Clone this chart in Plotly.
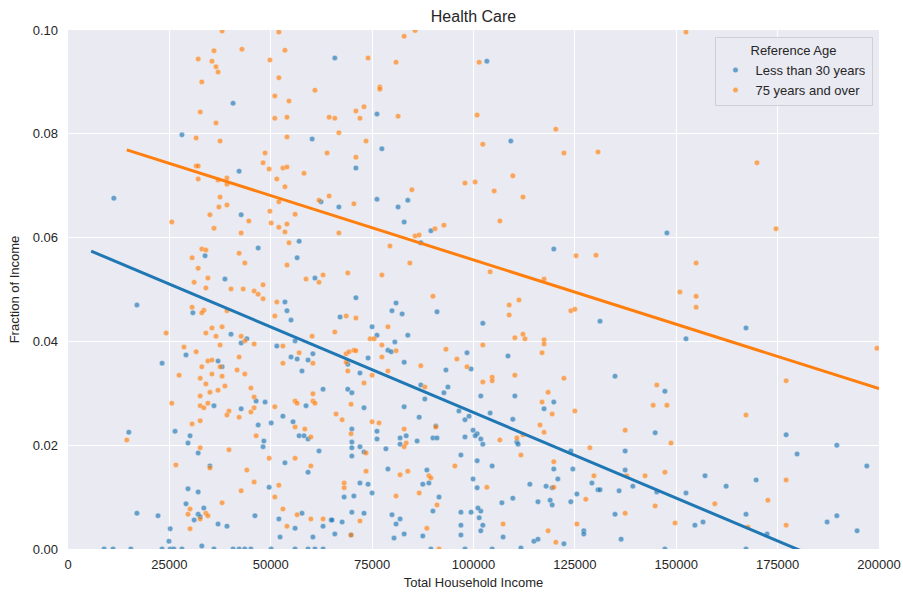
import plotly.graph_objects as go

title = "Health Care"
legend_title = "Reference Age"
series_names = ["Less than 30 years", "75 years and over"]
x_ticks = [0, 25000, 50000, 75000, 100000, 125000, 150000, 175000, 200000]
y_ticks = [0.00, 0.02, 0.04, 0.06, 0.08, 0.10]

young_pts = [
    (65800, .0946), (40700, .0859), (28100, .0798), (60200, .0790), (42200, .0728), (11300, .0676),
    (62400, .0669), (66800, .0659), (42700, .0644), (57000, .0593), (46900, .0580), (33800, .0565),
    (56500, .0561), (38700, .0520), (60900, .0522),
    (17000, .0470), (30800, .0455), (53500, .0476), (54000, .0459), (55000, .0441), (40200, .0414),
    (42700, .0397), (44100, .0405), (51500, .0391), (56000, .0401), (23200, .0358), (29100, .0374),
    (37000, .0362), (38000, .0351), (55000, .0370), (56500, .0366), (59200, .0364), (60400, .0376),
    (57700, .0343), (62900, .0308), (46400, .0285), (48600, .0283), (36000, .0276), (42700, .0270),
    (53000, .0256), (58700, .0276), (46900, .0239), (50100, .0243), (55500, .0245), (15000, .0225),
    (26400, .0227), (30100, .0218), (29600, .0204), (48300, .0208), (48100, .0197), (57000, .0218),
    (58200, .0218), (59200, .0212), (61900, .0189), (32100, .0185), (35000, .0160), (53500, .0166),
    (59200, .0148), (29600, .0116), (32100, .0110), (49600, .0119), (29100, .0087), (33500, .0079),
    (17000, .0069), (22200, .0064), (32100, .0067), (32600, .0062), (31100, .0056), (46100, .0064),
    (52000, .0058), (57700, .0069), (64900, .0056), (37000, .0048), (39200, .0044), (56000, .0040),
    (62900, .0044), (25200, .0039), (24900, .0015), (33000, .0006), (52300, .0023), (60400, .0023),
    (65800, .0029),
    (8900, 0), (11100, 0), (15500, 0), (23200, 0), (25200, 0), (26100, 0), (28100, 0), (36000, 0),
    (40700, 0), (42200, 0), (43600, 0), (45100, 0), (50100, 0), (56000, 0), (59200, 0), (60900, 0),
    (62900, 0),
    (103300, .0940), (76200, .0838), (77400, .0771), (71000, .0734), (109200, .0786), (76200, .0674),
    (81400, .0659), (83800, .0672), (82900, .0630), (89500, .0613), (119800, .0578), (87000, .0590),
    (71000, .0484), (80900, .0474), (79900, .0459), (82400, .0453), (67100, .0447), (91000, .0457),
    (102300, .0435), (75000, .0428), (76200, .0412), (83800, .0412), (80600, .0399), (78900, .0383),
    (79700, .0380), (74000, .0368), (82900, .0360), (98400, .0378), (99400, .0347), (108500, .0372),
    (69000, .0356), (72000, .0339), (93200, .0345), (87000, .0316), (93700, .0312), (92700, .0301),
    (88000, .0289), (69000, .0308), (70000, .0301), (73000, .0272), (82900, .0274), (101800, .0295),
    (110200, .0295), (119800, .0283), (117400, .0270), (96400, .0266), (98900, .0256), (97900, .0249),
    (104100, .0262), (109700, .0250), (86600, .0254), (70000, .0231), (76200, .0227), (76200, .0212),
    (90700, .0237), (99900, .0229), (100900, .0222), (100400, .0218), (101800, .0212), (97900, .0216),
    (83400, .0218), (81900, .0214), (81900, .0202), (86100, .0208), (90000, .0214), (91000, .0214),
    (70000, .0206), (70000, .0195), (70000, .0179), (72000, .0197), (73000, .0187), (78400, .0193),
    (102300, .0202), (110700, .0206), (111000, .0202), (124000, .0189), (96900, .0181), (100900, .0170),
    (104600, .0160), (78900, .0154), (88500, .0152), (119800, .0154), (124500, .0154), (120800, .0135),
    (130700, .0114), (129200, .0127), (113900, .0125), (117900, .0121), (119400, .0118), (99900, .0135),
    (100900, .0118), (72000, .0127), (74000, .0125), (87500, .0125), (89000, .0127), (68100, .0100),
    (70500, .0102), (75000, .0108), (91500, .0100), (109700, .0098), (107000, .0089), (115900, .0091),
    (118900, .0094), (119400, .0085), (124000, .0091), (125500, .0106), (90000, .0073), (96900, .0071),
    (99400, .0071), (101800, .0073), (101100, .0079), (70000, .0071), (73000, .0069), (101400, .0060),
    (102300, .0046), (101800, .0035), (96900, .0046), (79900, .0066), (81900, .0058), (80900, .0048),
    (65100, .0056), (67600, .0052), (80400, .0021), (82900, .0029), (87500, .0025), (96900, .0027),
    (107300, .0023), (114900, .0015), (115900, .0019), (122300, .0010), (127200, .0035), (127200, .0029),
    (111700, .0002), (69800, .0027), (89500, 0), (97900, 0), (104600, 0),
    (131200, .0439), (167200, .0426), (152400, .0405), (134900, .0333), (147200, .0304), (144800, .0224),
    (177100, .0220), (189600, .0200), (137400, .0189), (179800, .0183), (197000, .0160), (137400, .0152),
    (131200, .0114), (135900, .0112), (139300, .0121), (145200, .0110), (152400, .0108), (157100, .0141),
    (162300, .0121), (169700, .0133), (134900, .0067), (167200, .0067), (154600, .0046), (156600, .0052),
    (172400, .0029), (136400, .0019), (187200, .0052), (189600, .0064), (194600, .0035), (147200, 0),
    (167200, 0), (147700, .0609),
]

old_pts = [
    (38000, .0998), (52000, .0996), (42900, .0963), (36000, .0960), (53500, .0961), (32100, .0944),
    (35500, .0940), (49800, .0942), (36500, .0929), (37000, .0919), (52000, .0908), (33000, .0900),
    (60900, .0884), (51000, .0873), (54500, .0863), (32600, .0842), (36500, .0821), (51000, .0830),
    (54000, .0832), (64400, .0832), (65800, .0830), (66800, .0802), (31600, .0792), (37500, .0786),
    (54000, .0794), (48600, .0763), (63900, .0763), (48100, .0744), (49600, .0732), (31600, .0738),
    (32100, .0738), (53000, .0734), (54000, .0736), (58200, .0724), (32100, .0713), (37000, .0711),
    (39200, .0715), (39200, .0703), (51500, .0713), (53500, .0698), (37500, .0678), (64400, .0680),
    (61900, .0672), (52000, .0669), (37200, .0659), (39200, .0663), (49800, .0651), (56000, .0645),
    (35000, .0644), (44600, .0632), (25600, .0630), (50100, .0628), (54000, .0626), (36000, .0618),
    (52000, .0620), (42700, .0609), (53500, .0611), (66800, .0609), (54500, .0590), (33000, .0578),
    (34000, .0576), (30600, .0561), (42200, .0570), (43600, .0551), (32100, .0541), (54000, .0547),
    (31100, .0514), (34500, .0522), (34000, .0503), (40200, .0501), (43200, .0501), (48100, .0509),
    (58700, .0520), (61900, .0514), (62900, .0528),
    (45900, .0497), (46900, .0491), (48100, .0482), (30600, .0466), (33500, .0460), (33000, .0455),
    (39200, .0459), (51500, .0476), (51000, .0449), (24200, .0416), (34000, .0416), (35500, .0426),
    (38000, .0428), (36500, .0410), (42700, .0410), (43600, .0401), (45900, .0395), (37500, .0393),
    (60200, .0410), (65800, .0418), (53000, .0391), (28600, .0389), (31600, .0380), (57000, .0378),
    (42200, .0370), (34500, .0362), (35500, .0364), (37500, .0351), (53000, .0358), (60400, .0358),
    (33000, .0351), (41700, .0345), (27400, .0335), (35500, .0337), (38000, .0333), (43600, .0337),
    (32600, .0329), (34000, .0318), (38700, .0314), (37000, .0306), (35000, .0302), (45100, .0310),
    (32600, .0295), (45900, .0293), (60400, .0299), (56000, .0285), (56500, .0281), (60400, .0285),
    (60900, .0281), (25600, .0281), (32600, .0276), (33500, .0272), (34500, .0281), (51000, .0274),
    (45900, .0272), (39700, .0266), (39200, .0258), (42200, .0254), (45100, .0264), (66100, .0260),
    (30600, .0241), (32600, .0247), (56000, .0235), (58400, .0231), (59900, .0216), (46400, .0218),
    (14500, .0210), (32600, .0195), (39700, .0191), (26600, .0162), (35000, .0156), (49600, .0175),
    (56000, .0175), (59900, .0160), (44100, .0152), (45900, .0129), (52000, .0123), (42700, .0112),
    (51000, .0100), (38000, .0089), (30100, .0077), (53000, .0077), (29600, .0067), (34000, .0069),
    (34500, .0064), (32600, .0058), (56500, .0066), (59900, .0058), (62900, .0058), (30100, .0039),
    (54000, .0044),
    (82900, .0988), (85600, .0999), (74000, .0946), (80900, .0938), (101400, .0938), (76900, .0890),
    (76900, .0886), (71000, .0844), (73000, .0852), (72000, .0830), (81400, .0834), (100900, .0836),
    (73500, .0786), (71000, .0755), (102300, .0780), (120300, .0809), (122300, .0763), (130700, .0765),
    (70500, .0665), (84800, .0692), (97900, .0705), (100400, .0707), (105100, .0690), (109700, .0719),
    (112200, .0678), (106500, .0632), (92700, .0624), (90500, .0617), (85600, .0603), (86600, .0605),
    (79400, .0584), (69000, .0532), (77400, .0528), (84300, .0551), (104100, .0534), (117400, .0520),
    (125300, .0565), (130200, .0566),
    (90000, .0487), (68600, .0449), (71000, .0445), (78900, .0428), (74500, .0405), (75500, .0405),
    (77400, .0393), (80900, .0382), (68600, .0376), (69300, .0380), (70500, .0383), (71000, .0382),
    (77400, .0370), (93200, .0385), (95900, .0366), (68600, .0360), (69000, .0343), (78900, .0343),
    (87000, .0353), (98400, .0351), (75000, .0335), (73000, .0320), (88000, .0312), (102300, .0322),
    (104600, .0331), (104600, .0324), (108800, .0470), (111200, .0480), (108800, .0451), (102300, .0393),
    (110200, .0407), (112200, .0414), (112700, .0405), (117400, .0403), (117400, .0395), (116900, .0378),
    (110200, .0335), (122300, .0329), (124000, .0459), (125000, .0462), (69800, .0279), (67600, .0249),
    (75000, .0245), (76700, .0243), (82900, .0231), (90700, .0235), (69800, .0222), (83400, .0204),
    (82900, .0197), (73500, .0185), (106500, .0210), (110700, .0214), (112200, .0220), (111700, .0181),
    (116400, .0239), (118400, .0302), (116900, .0283), (119400, .0260), (117400, .0225), (125000, .0266),
    (128700, .0195), (73500, .0150), (81900, .0143), (83800, .0150), (89000, .0141), (89500, .0137),
    (95400, .0160), (68100, .0127), (68100, .0118), (86600, .0108), (80900, .0102), (91000, .0085),
    (103300, .0119), (119800, .0168), (119800, .0119), (129700, .0141), (127700, .0096), (72000, .0054),
    (88500, .0040), (107300, .0048), (118400, .0035), (125500, .0048), (120300, .0013), (91500, .0000),
    (69800, .0027),
    (150900, .0495), (154900, .0487), (154900, .0466), (199500, .0387), (177100, .0324), (145200, .0316),
    (144300, .0277), (147700, .0277), (167200, .0258), (137400, .0229), (148700, .0204), (137800, .0141),
    (142300, .0141), (147200, .0148), (177100, .0133), (172600, .0094), (159500, .0087), (144800, .0083),
    (137400, .0069), (149700, .0050), (177100, .0046), (167700, .0042),
    (152400, .0996), (169900, .0744), (174600, .0617), (154900, .0551),
]

young_income = [p[0] for p in young_pts]
young_frac = [p[1] for p in young_pts]
old_income = [p[0] for p in old_pts]
old_frac = [p[1] for p in old_pts]

# regression fits
young_fit_x = [5700, 197000]
young_fit_y = [0.0574, -0.0057]
old_fit_x = [14500, 200000]
old_fit_y = [0.0769, 0.0309]

blue = "#1f77b4"
orange = "#ff7f0e"
font_family = "Liberation Sans, Arial, sans-serif"
text_col = "#262626"

fig = go.Figure()
for name, xs, ys, col in [(series_names[0], young_income, young_frac, blue),
                          (series_names[1], old_income, old_frac, orange)]:
    fig.add_trace(go.Scatter(
        x=xs, y=ys, mode="markers", name=name,
        marker=dict(color=col, size=5.5, opacity=0.65, line=dict(color="white", width=0.4)),
    ))
for xs, ys, col in [(young_fit_x, young_fit_y, blue), (old_fit_x, old_fit_y, orange)]:
    fig.add_trace(go.Scatter(x=xs, y=ys, mode="lines", line=dict(color=col, width=3),
                             showlegend=False, hoverinfo="skip"))

fig.update_layout(
    width=903, height=594,
    margin=dict(l=68, r=24, t=30, b=45, autoexpand=False),
    paper_bgcolor="white", plot_bgcolor="#EAEAF2",
    font=dict(family=font_family, size=13, color=text_col),
    title=dict(text=title, x=(68 + 879) / 2 / 903, xanchor="center", y=1 - 16 / 594, yanchor="middle",
               font=dict(size=16, color=text_col)),
    legend=dict(
        title=dict(text=legend_title, side="top center", font=dict(size=13, color=text_col)),
        x=0.992, xanchor="right", y=0.986, yanchor="top",
        bgcolor="rgba(234,234,242,0.85)", bordercolor="#cfcfd6", borderwidth=1,
        font=dict(size=13, color=text_col), itemsizing="trace",
    ),
    showlegend=True,
)
fig.update_xaxes(
    range=[0, 200000], tickvals=x_ticks, ticktext=[str(v) for v in x_ticks],
    showgrid=True, gridcolor="white", gridwidth=1, zeroline=False, showline=False,
    ticks="", ticklabelstandoff=6, automargin=False, tickfont=dict(size=13),
    title=dict(text="Total Household Income", font=dict(size=13, color=text_col), standoff=6),
)
fig.update_yaxes(
    range=[0, 0.1], tickvals=y_ticks, ticktext=[f"{v:.2f}" for v in y_ticks],
    showgrid=True, gridcolor="white", gridwidth=1, zeroline=False, showline=False,
    ticks="", ticklabelstandoff=9, automargin=False, tickfont=dict(size=13),
    title=dict(text="Fraction of Income", font=dict(size=13, color=text_col), standoff=10),
)

fig.write_html("out.html")
